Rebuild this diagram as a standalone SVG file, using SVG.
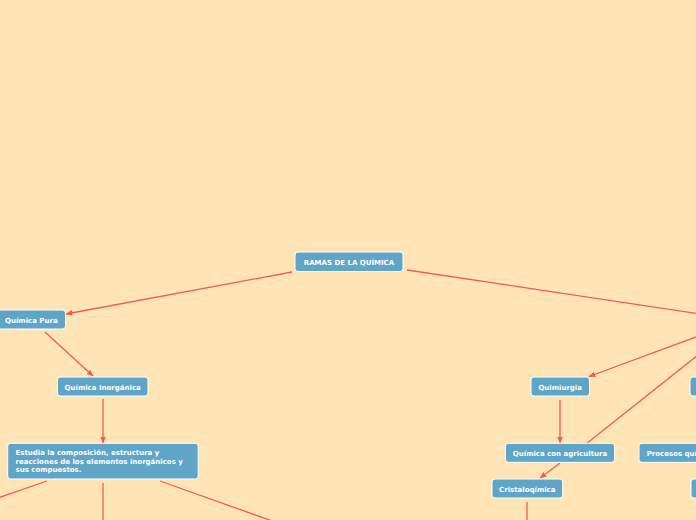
<svg xmlns="http://www.w3.org/2000/svg" width="696" height="520" viewBox="0 0 696 520">
<style>
.n rect{fill:#5fa5c8;stroke:#ffffff;stroke-width:1}
.n text{font-family:"DejaVu Sans",Verdana,sans-serif;font-weight:bold;font-size:7px;fill:#ffffff}
.c{fill:none;stroke:#f05a5a;stroke-width:1.3}
</style>
<defs>
<marker id="ah" viewBox="0 0 10 10" refX="9" refY="5" markerWidth="7" markerHeight="7" markerUnits="userSpaceOnUse" orient="auto">
<path d="M0,1 L10,5 L0,9 Z" fill="#f05a5a"/>
</marker>
</defs>
<rect width="696" height="520" fill="#ffe5b5"/>
<g id="connectors">
<line class="c" x1="292" y1="272" x2="66" y2="314" marker-end="url(#ah)"/>
<line class="c" x1="407" y1="270" x2="700" y2="314"/>
<line class="c" x1="45" y1="332" x2="93" y2="376" marker-end="url(#ah)"/>
<line class="c" x1="103" y1="399" x2="103" y2="443" marker-end="url(#ah)"/>
<line class="c" x1="47" y1="481" x2="-2" y2="498"/>
<line class="c" x1="103" y1="483" x2="103" y2="522"/>
<line class="c" x1="160" y1="481" x2="275" y2="522"/>
<line class="c" x1="700" y1="335.5" x2="589" y2="376.5" marker-end="url(#ah)"/>
<line class="c" x1="700" y1="353.5" x2="586" y2="444"/>
<line class="c" x1="560" y1="400" x2="560" y2="443" marker-end="url(#ah)"/>
<line class="c" x1="560" y1="463" x2="540" y2="478" marker-end="url(#ah)"/>
<line class="c" x1="527" y1="502" x2="527" y2="522"/>
</g>
<g id="root" class="n"><rect x="295" y="252" width="108" height="19.5" rx="3"/><text x="349" y="264.5" text-anchor="middle">RAMAS DE LA QUÍMICA</text></g>
<g id="quimica-pura" class="n"><rect x="-5" y="310" width="70.5" height="19" rx="3"/><text x="5" y="322.5">Química Pura</text></g>
<g id="quimica-inorganica" class="n"><rect x="57.5" y="377" width="90.5" height="19" rx="3"/><text x="102.7" y="389.5" text-anchor="middle">Química Inorgánica</text></g>
<g id="estudia" class="n"><rect x="7.7" y="443.3" width="190.5" height="35.7" rx="3"/><text x="15.5" y="455">Estudia la composición, estructura y</text><text x="15.5" y="463.5">reacciones de los elementos inorgánicos y</text><text x="15.5" y="472">sus compuestos.</text></g>
<g id="quimiurgia" class="n"><rect x="531" y="377" width="58.5" height="19" rx="3"/><text x="560.2" y="389.5" text-anchor="middle">Quimiurgia</text></g>
<g id="right-node" class="n"><rect x="690" y="377" width="30" height="19" rx="3"/></g>
<g id="quimica-agricultura" class="n"><rect x="505.5" y="443.3" width="109" height="19" rx="3"/><text x="560" y="455.8" text-anchor="middle">Química con agricultura</text></g>
<g id="procesos" class="n"><rect x="639" y="443.3" width="90" height="19" rx="3"/><text x="646.7" y="455.8">Procesos quí</text></g>
<g id="cristaloquimica" class="n"><rect x="492" y="479" width="70.7" height="19" rx="3"/><text x="527.3" y="491.5" text-anchor="middle">Cristaloqímica</text></g>
<g id="right-node-2" class="n"><rect x="691" y="479" width="30" height="19" rx="3"/></g>
</svg>
